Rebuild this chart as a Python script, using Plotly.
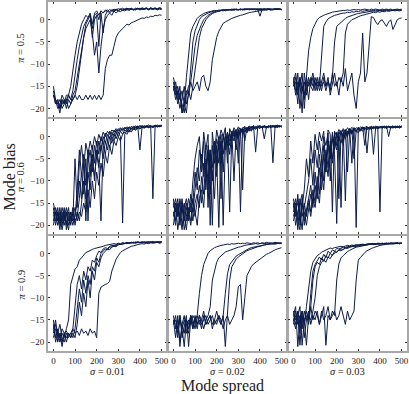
"""Siatka 3x3: bias modu w czasie dla roznych pi (wiersze) i sigma (kolumny)."""

import plotly.graph_objects as go
from plotly.subplots import make_subplots

FONT = "Liberation Serif"
LINE_COLOR = "#0c1c48"
FRAME_COLOR = "#a8a8a8"

STEP = 10  # wartosci zapisane co 10 krokow (0..500)

PI_VALUES = ["0.5", "0.6", "0.9"]
SIGMA_VALUES = ["0.01", "0.02", "0.03"]
X_TICKS = [0, 100, 200, 300, 400, 500]
Y_TICKS = [0, -5, -10, -15, -20]
Y_TICKTEXT = ["0", "\u22125", "\u221210", "\u221215", "\u221220"]

# pi = 0.5, sigma = 0.01
P05_S01 = [
    [-16, -19, -18, -20, -18, -19, -17, -17, -15, -11,
     -8, -5, -3, -1, 0, 1, 0.5, 1.5, -1, 1.5,
     2, 1, 2, 1.5, 2, 2.2, 1.8, 2.3, 2, 2.4,
     2.1, 2.5, 2.2, 2.4, 2.6, 2.3, 2.5, 2.2, 2.6, 2.4,
     2.6, 2.3, 2.5, 2.7, 2.4, 2.6, 2.5, 2.7, 2.4, 2.6,
     2.5],
    [-17, -18, -20, -19, -17, -18, -19, -17, -18, -16,
     -12, -9, -6, -3.5, -1.5, -0.5, 0.5, 1, -2, 1,
     1.5, 0, 2, 1.5, 2.2, 1.8, 2.3, 2, 2.4, 2.2,
     2.5, 2.3, 2.6, 2.3, 2.5, 2.4, 2.6, 2.3, 2.5, 2.6,
     2.4, 2.7, 2.5, 2.6, 2.4, 2.7, 2.5, 2.6, 2.5, 2.7,
     2.6],
    [-15, -18, -19, -21, -18, -19, -18, -20, -19, -17,
     -16, -13, -9, -6, -3, -1, 0, 1, -4, 0,
     1, -6, 1.5, -3, 1, 2, 1.5, 2, 1.8, 2.2,
     2, 2.3, 2.1, 2.4, 2.2, 2.5, 2.3, 2.4, 2.2, 2.5,
     2.3, 2.6, 2.4, 2.5, 2.3, 2.6, 2.4, 2.5, 2.3, 2.6,
     2.4],
    [-17, -19, -18, -20, -19, -18, -20, -18, -19, -18,
     -17, -15, -11, -7, -4, -2, -1, 0, -3, -8,
     -5, -12, -6, -2, 0, 1, 1.5, 1, 2, 1.5,
     2, 1.8, 2.2, 2, 2.3, 2.1, 2.4, 2.2, 2.3, 2.5,
     2.2, 2.4, 2.3, 2.5, 2.2, 2.4, 2.3, 2.5, 2.2, 2.4,
     2.3],
    [-17, -18, -19, -18, -20, -19, -18, -17, -18, -18,
     -17, -18, -17, -18, -18, -17, -18, -17, -18, -17,
     -18, -17, -18, -17, -11, -9, -8, -8, -6, -4,
     -3, -2.5, -2, -1.5, -1, -1.2, -0.7, -0.5, -0.3, 0,
     0.2, 0.4, 0.3, 0.6, 0.5, 0.8, 0.7, 1, 0.9, 1.1,
     1],
]

# pi = 0.5, sigma = 0.02
P05_S02 = [
    [-14, -17, -15, -18, -16, -19, -13, -7, -3, -1.5,
     -0.5, 0.3, 0.8, 1.2, 1.4, 1.6, 1.7, 1.9, 2, 2.1,
     2, 2.2, 2.1, 2.3, 2.2, 2.3, 2.2, 2.4, 2.3, 2.4,
     2.2, 2.4, 2.3, 2.5, 2.3, 2.4, 2.3, 2.5, 2.4, 2.3,
     2.5, 2.4, 2.3, 2.5, 2.4, 2.5, 2.3, 2.4, 2.5, 2.3,
     2.4],
    [-15, -16, -19, -17, -21, -18, -16, -17, -10, -5,
     -2.5, -1, 0, 0.7, 1, 1.3, 1.5, 1.7, 1.8, 2,
     2.1, 2, 2.2, 2.1, 2.3, 2.2, 2.3, 2.1, 2.4, 2.2,
     2.3, 2.4, 2.2, 2.4, 2.3, 2.5, 2.3, 2.4, 2.2, 2.4,
     0.8, 2.3, 2.5, 2.3, 2.4, 2.2, 2.4, 2.5, 2.3, 2.4,
     2.2],
    [-16, -14, -17, -20, -18, -15, -19, -17, -14, -10,
     -6, -3.5, -2, -1, 0, 0.6, 1, 1.3, 1.6, 1.8,
     2, 1.9, 2.1, 2.2, 2, 2.3, 2.2, 2.3, 2.1, 2.4,
     2.3, 2.2, 2.4, 2.3, 2.5, 2.2, 2.4, 2.3, 2.4, 2.5,
     2.3, 2.4, 2.2, 2.4, 2.5, 2.3, 2.4, 2.3, 2.5, 2.4,
     2.3],
    [-15, -18, -16, -17, -19, -21, -17, -15, -14, -16,
     -15, -14, -16, -13, -12.5, -15, -16, -14, -9, -6,
     -4, -2.6, -1.5, -0.8, -0.5, -0.2, 0, 0.3, 0.5, 0.7,
     0.9, 1, 1.1, 1.3, 1.4, 1.6, 1.7, 1.8, 1.9, 2,
     2.1, 2.1, 2.2, 2.2, 2.3, 2.2, 2.3, 2.4, 2.3, 2.4,
     2.3],
    [-13, -16, -18, -15, -21, -19, -21, -16, -18, -15,
     -11, -7, -4, -2, -1, 0, 0.6, 1.1, 1.4, 1.6,
     1.8, 2, 2.1, 2, 2.2, 2.1, 2.3, 2.2, 2.4, 2.3,
     2.2, 2.4, 2.3, 2.2, 2.4, 2.3, 2.5, 2.3, 2.4, 2.2,
     2.4, 2.3, 2.5, 2.2, 2.4, 2.3, 2.2, 2.4, 2.3, 2.5,
     2.3],
]

# pi = 0.5, sigma = 0.03
P05_S03 = [
    [-14, -16, -12, -20, -15, -18, -13, -7, -4, -2,
     -1, 0, 0.5, 0.8, 1, 1.2, 1.4, 1.5, 1.7, 1.8,
     1.9, 2, 2, 2.1, 2.1, 2.2, 2.1, 2.2, 2.3, 2.2,
     2.3, 2.2, 2.3, 2.4, 2.3, 2.2, 2.4, 2.3, 2.4, 2.3,
     2.2, 2.4, 2.3, 2.4, 2.3, 2.4, 2.2, 2.3, 2.4, 2.3,
     2.4],
    [-15, -13, -17, -14, -21, -12, -16, -14, -15, -13,
     -16, -14, -15, -8, -1.5, -0.5, 0.2, 0.5, 0.8, 1,
     1.1, 1.3, 1.4, 1.5, 1.5, 1.7, 1.6, 1.8, 1.7, 1.9,
     1.8, 2, 1.9, 2, 2.1, 1.9, 2.1, 2, 2.2, 2,
     2.1, 2.2, 2, 2.2, 2.1, 2.2, 2.1, 2.3, 2.1, 2.2,
     2.1],
    [-13, -17, -14, -15, -12, -20, -14, -18, -13, -15,
     -14, -16, -13, -15, -14, -16, -14, -15, -13, -5,
     -1.5, -1, -0.5, 0, 0.3, 0.6, 0.8, 1, 1.1, 1.3,
     1.4, 1.5, 1.6, 1.7, 1.8, 1.8, 1.9, 2, 1.9, 2,
     2.1, 2, 2.1, 2.2, 2.1, 2.2, 2.1, 2.2, 2.3, 2.2,
     2.3],
    [-14, -12, -16, -13, -15, -17, -13, -15, -14, -12,
     -15, -13, -16, -14, -12, -15, -13, -17, -14, -12,
     -15, -13, -14, -12, -3, -1, -0.5, 0, 0.2, 0.5,
     0.7, 0.9, 1, 1.2, 1.3, 1.4, 1.5, 1.7, 1.6, 1.8,
     1.7, 1.9, 1.8, 2, 1.9, 2, 2.1, 2, 2.1, 2,
     2.1],
    [-15, -14, -19, -13, -16, -14, -17, -13, -15, -16,
     -13, -15, -14, -16, -13, -15, -14, -16, -12, -15,
     -14, -17, -13, -15, -11, -16, -14, -12, -17, -20,
     -14, -12, -3, -14, -12, -5, 0.7, 0.5, -0.5, -1.1,
     -0.3, 0, -0.8, -1.5, -0.5, 0, -2.2, -1, 0, 0.3,
     0.4],
]

# pi = 0.6, sigma = 0.01
P06_S01 = [
    [-17, -19, -16, -20, -18, -19, -17, -20, -18, -19,
     -5, -16, -6, -2, -7, -1.5, -4, -1, -3, 0,
     -2, 0.5, -1, 1, 0, 1.2, 0.5, 1.5, 1, 1.8,
     1.3, 2, 1.5, 2.1, 1.7, 2.2, 1.8, 2.3, 2, 2.4,
     2.1, 2.5, 2.2, 2.4, 2.3, 2.5, 2.2, 2.6, 2.3, 2.5,
     2.6],
    [-15, -18, -20, -17, -19, -16, -21, -18, -17, -19,
     -18, -12, -3, -9, -4, -19, -6, -3, -8, -2,
     -5, -1, -3, 0, -1.5, 0.5, -0.5, 1, 0.3, 1.5,
     0.8, 1.8, 1.2, 2, 1.5, 2.1, 1.7, 2.2, 1.9, 2.3,
     -3, 2.2, 2, 2.4, 2.1, 2.3, 2.2, 2.5, 2.2, 2.4,
     2.3],
    [-19, -16, -18, -21, -17, -20, -18, -16, -20, -17,
     -19, -18, -14, -8, -13, -5, -19, -7, -4, -10,
     -3, -6, -19, -2, -4, -1, -2.5, 0, -1, 0.8,
     0, 1.2, 0.5, 1.5, 1, 1.8, 1.4, 2, 1.6, 2.1,
     1.8, 2.3, 2, 2.2, 2.1, 2.4, 2, 2.3, 2.2, 2.5,
     2.3],
    [-16, -20, -17, -19, -16, -18, -20, -17, -19, -16,
     -20, -17, -19, -15, -10, -14, -8, -12, -5, -9,
     -4, -7, -2, -5, -1, -3, 0, -1.5, 0.5, -0.5,
     1, 0, -19.5, 0.5, 1.5, 1, 2, 1.5, 2.2, 1.8,
     2.3, 2, 2.4, 2.1, 2.3, 2.2, -14, 2.1, 2.4, 2.2,
     2.5],
    [-18, -17, -19, -16, -20, -17, -19, -21, -17, -18,
     -16, -19, -17, -18, -15, -17, -12, -16, -10, -14,
     -8, -11, -6, -9, -4, -6, -2, -4, -1, -2,
     0, -1, 0.5, 1, 0.5, 1.5, 1, 1.8, 1.4, 2,
     1.7, 2.1, 1.9, 2.3, 2, 2.2, 2.1, 2.4, 2.2, 2.3,
     2.4],
    [-20, -17, -19, -18, -21, -18, -16, -19, -18, -20,
     -17, -15, -10, -14, -6, -11, -3, -9, -2, -6,
     -1, -4, 0, -2, 0.8, -1, 1.2, 0, 1.5, 0.8,
     1.8, 1.2, 2, 1.6, 2.2, 1.8, 2.3, 2, 2.4, 2.1,
     2.5, 2.2, 2.4, 2.3, 2.6, 2.2, 2.4, 2.3, 2.6, 2.4,
     2.5],
]

# pi = 0.6, sigma = 0.02
P06_S02 = [
    [-14, -19, -16, -20, -15, -18, -21, -16, -17, -10,
     -5, -2, 0, -8, 1, -3, 0.5, -20, 1, -4,
     1.5, -1, 1.5, 0, 2, -6, 1.8, 0.5, 2, 1,
     2.2, 1.5, 2, 2.3, 1.8, 2.4, 2, 2.5, -3.5, 2.2,
     2.4, 2, 2.5, 2.2, 2.4, 2.1, 2.5, 2.3, 2.6, 2.2,
     2.4],
    [-16, -14, -18, -15, -20, -17, -15, -19, -13, -15,
     -8, -12, -3, -6, -1, -12, -2, -5, -20, -1,
     -9, 0, -14, 0.5, -3, 1, -2, 1.2, -10, 1.5,
     0, 1.8, 0.8, 2, 1.2, 2.1, 1.5, 2.2, 1.8, 2.3,
     1.9, 2.4, 2, 2.2, 2.1, 2.5, -5.9, 2.3, 2.1, 2.4,
     2.2],
    [-18, -15, -21, -17, -14, -19, -16, -18, -15, -17,
     -12, -7, -10, -4, -9, -2, -16, -3, -7, -1,
     -5, -20.5, -1, -4, 0, -2, 0.8, -1, 1.2, 0,
     1.5, -17, 1.8, 1, 2, 1.4, 2.2, 1.7, 2.3, 1.9,
     2.4, 2, 2.2, 2.3, 2, 2.4, 2.2, 2.5, 2.1, 2.3,
     2.4],
    [-15, -17, -14, -19, -16, -21, -18, -14, -16, -19,
     -15, -13, -16, -9, -13, -5, -10, -3, -8, -14,
     -2, -6, -1, -20, -2, 0, -4, 0.8, -1, 1.2,
     -0.5, 1.5, -12, 1.6, 0.8, 2, 1.2, 2.1, 1.6, 2.2,
     1.8, 2.3, -0.5, 2.1, 2.4, 2, 2.3, 2.1, 2.5, 2.2,
     2.4],
    [-20, -16, -18, -14, -17, -15, -19, -17, -20, -16,
     -18, -15, -11, -15, -6, -9, -3, -13, -2, -6,
     -0.5, -3, 0.5, -8, 1, -1, -17, 0.5, 1.5, -3,
     1.8, 0.5, 2, -1, 2.1, 1.2, 2.3, 1.6, 2.2, 1.8,
     2.5, 2, 2.3, 1.9, 2.4, 2.2, 2.5, 2, 2.3, 2.5,
     2.1],
    [-17, -20, -15, -18, -21, -16, -14, -17, -19, -14,
     -17, -20, -14, -12, -16, -7, -12, -4, -10, -2,
     -7, -1, -5, 0.3, -2, 0.8, -1, 1.2, 0, 1.6,
     -6, 1.8, 1, 2.1, 1.4, 2.3, 1.8, 2.4, 2, 2.5,
     2.1, 2.3, 2.4, 2, 2.2, 2.5, 2.1, 2.4, 2.3, 2.5,
     2.2],
]

# pi = 0.6, sigma = 0.03
P06_S03 = [
    [-14, -18, -13, -20, -16, -12, -5, -9, -1, -6,
     0.5, -3, 1, -1, 1.2, -8, 1.5, 0.5, -17, 1.2,
     0, 1.6, 0.5, 1.8, 1, 2, 1.3, 2.1, 1.5, 2,
     1.6, 2.2, 1.8, 2, 2.3, 1.7, 2.2, 1.9, 2.4, 2,
     2.2, 2.1, 2.4, 1.9, 2.3, 2.1, 2.4, 2, 2.3, 2.2,
     2.4],
    [-17, -15, -21, -14, -18, -16, -13, -10, -5, -11,
     -3, -7, -1, -5, 0, -2, 0.8, -10, 1, -4,
     -19.6, 0.5, 1.4, -2, 1.6, 0.5, 1.8, 1, 2, -20.5,
     1.8, 1.2, 2.1, 1.5, -3.7, 2, 1.6, 2.2, 1.8, 2.3,
     1.9, 2.2, 2, 2.4, 0, 2.2, 1.9, 2.3, 2, 2.4,
     2.1],
    [-19, -16, -14, -17, -21, -15, -18, -14, -11, -16,
     -8, -13, -4, -9, -2, -6, -1, -4, 0.5, -2,
     1, -14, 0.8, 1.5, -14.5, 1.2, 1.8, 0.8, 2, 1.3,
     2.1, 1.5, 2.2, 1.7, 2, 1.9, 2.3, -4, 2.1, 1.8,
     2.3, 2, 2.2, 1.9, 2.4, 2, 2.2, 2.1, 2.4, 1.9,
     2.2],
    [-15, -20, -17, -15, -13, -19, -16, -14, -17, -12,
     -15, -9, -13, -5, -10, -3, -7, -1, -5, 0.5,
     -2, 1, -16, 0.8, 1.5, 0, 1.7, -6, 1.8, 1,
     2, 1.4, 2.2, 1.6, 2, 1.8, 2.3, 1.7, 2.1, 2.2,
     -17, 2, 2.3, 1.8, 2.2, 2, 2.4, 1.9, 2.2, 2.1,
     2.3],
    [-16, -14, -19, -21, -15, -17, -20, -16, -13, -15,
     -11, -14, -7, -12, -4, -8, -2, -5, -0.5, -3,
     0.5, -1, 1, 0, 1.3, -8, 1.5, 0.5, 1.8, 1.2,
     2, 1.5, 2.1, -2, 2.2, 1.6, 2, 2.3, 1.8, 2.2,
     2, 2.4, 1.9, 2.2, 2.1, 2.3, 2, 2.4, 2.1, 2.3,
     2.2],
    [-18, -16, -15, -19, -14, -20, -17, -15, -18, -14,
     -16, -12, -15, -8, -12, -5, -9, -2, -6, -1,
     -3, 0, -1.5, 0.8, -0.5, 1.2, 0.5, 1.6, -5, 1.4,
     0.8, 1.8, 1.2, 2, 1.5, 2.2, 1.8, 2, 2.2, 1.7,
     2.1, 1.9, 2.3, 2, 2.2, 1.8, 2.3, 2.1, 2.2, 2,
     2.4],
]

# pi = 0.9, sigma = 0.01
P09_S01 = [
    [-15, -19, -17, -20, -18, -19, -17, -15, -7, -5,
     -3.5, -3, -1.5, -1, -0.5, 0.2, 0.4, 0.7, 0.9, 1.1,
     1.2, 1.3, 1.5, 1.6, 1.8, 1.9, 2, 2.1, 2.2, 2.1,
     2.3, 2.2, 2.4, 2.3, 2.5, 2.3, 2.4, 2.5, 2.3, 2.5,
     2.4, 2.6, 2.4, 2.5, 2.6, 2.4, 2.6, 2.5, 2.6, 2.4,
     2.6],
    [-17, -16, -20, -18, -21, -18, -19, -18, -19, -17,
     -12, -7, -5, -8, -4, -6, -3, -4, -1.5, -2,
     -0.5, 0.5, 0.2, 1, 1.3, 1.1, 1.6, 1.8, 1.7, 2,
     2.2, 2, 2.3, 2.2, 2.4, 2.3, 2.5, 2.4, 2.6, 2.4,
     2.5, 2.6, 2.4, 2.6, 2.5, 2.6, 2.4, 2.6, 2.5, 2.7,
     2.5],
    [-19, -17, -18, -16, -19, -20, -18, -19, -18, -19,
     -17, -13, -8, -11, -6, -9, -5, -7, -3, -4,
     -1, -2, 0, 0.5, 1, 0.8, 1.4, 1.5, 1.9, 1.7,
     2.1, 2, 2.3, 2.2, 2.4, 2.3, 2.5, 2.3, 2.5, 2.6,
     2.4, 2.5, 2.6, 2.4, 2.6, 2.5, 2.7, 2.5, 2.6, 2.5,
     2.6],
    [-16, -20, -18, -19, -17, -18, -20, -18, -19, -18,
     -19, -16, -11, -14, -9, -12, -6, -10, -4, -6,
     -2, -3, -1, 0, 0.5, 1, 0.8, 1.4, 1.6, 1.5,
     1.9, 2.1, 2, 2.3, 2.2, 2.4, 2.3, 2.5, 2.4, 2.6,
     2.5, 2.4, 2.6, 2.5, 2.4, 2.6, 2.5, 2.4, 2.6, 2.5,
     2.7],
    [-18, -15, -19, -18, -20, -18, -17.5, -18.5, -18, -17,
     -18, -17.5, -18.5, -17, -18, -17.5, -18.5, -17, -18, -17.5,
     -19, -9, -7.6, -7.2, -7, -6.8, -6.3, -4, -2.5, -1.3,
     -0.5, 0.2, 0.6, 0.9, 1.2, 1.4, 1.6, 1.7, 1.9, 2,
     2.1, 2.2, 2.1, 2.3, 2.2, 2.4, 2.3, 2.4, 2.5, 2.3,
     2.4],
]

# pi = 0.9, sigma = 0.02
P09_S02 = [
    [-15, -19, -14, -21, -16, -18, -15, -17, -14, -16,
     -15, -14, -9, -5, -2.5, -1, 0, 0.6, 1, 1.3,
     1.5, 1.7, 1.8, 1.9, 2, 2.1, 2, 2.2, 2.1, 2.2,
     2.3, 2.2, 2.3, 2.2, 2.4, 2.3, 2.2, 2.4, 2.3, 2.4,
     2.2, 2.4, 2.3, 2.5, 2.3, 2.4, 2.3, 2.5, 2.4, 2.3,
     2.4],
    [-16, -14, -18, -15, -17, -21, -15, -16, -14, -17,
     -15, -16, -14, -15, -17, -15, -14, -12, -6, -3.9,
     -2, -1, -0.5, 0, 0.3, 0.5, 0.7, 0.9, 1.1, 1.3,
     1.4, 1.5, 1.7, 1.8, 1.9, 2, 2, 2.1, 2.2, 2.1,
     2.2, 2.3, 2.2, 2.3, 2.4, 2.2, 2.3, 2.4, 2.3, 2.4,
     2.3],
    [-14, -17, -15, -20, -16, -14, -18, -15, -16, -14,
     -15, -17, -14, -16, -15, -14, -16, -15, -14, -16,
     -15, -14, -16, -14, -9, -4.6, -2.5, -1.8, -1.2, -0.6,
     -0.3, 0, 0.3, 0.6, 0.9, 1.1, 1.3, 1.4, 1.5, 1.7,
     1.8, 1.9, 2, 2, 2.1, 2.2, 2.1, 2.2, 2.3, 2.2,
     2.3],
    [-15, -16, -19, -14, -17, -15, -16, -18, -14, -15,
     -17, -14, -16, -15, -13, -16, -15, -14, -16, -15,
     -13, -15, -16, -14, -21, -14, -6, -3, -2, -1.3,
     -0.8, -0.4, 0, 0.3, 0.6, 0.8, 1, 1.2, 1.4, 1.5,
     1.6, 1.8, 1.9, 2, 2, 2.1, 2.2, 2.1, 2.2, 2.3,
     2.2],
    [-16, -15, -17, -14, -19, -16, -14, -21, -15, -17,
     -14, -16, -15, -17, -14, -16, -15, -14, -17, -15,
     -16, -14, -15, -17, -15, -14, -16, -15, -14, -12,
     -7.5, -7, -15, -10, -5, -4, -3, -2.4, -2, -1.7,
     -1.3, -0.9, -0.5, -0.2, 0, 0.3, 0.6, 0.8, 1, 1.1,
     1.3],
]

# pi = 0.9, sigma = 0.03
P09_S03 = [
    [-14, -12, -21, -15, -13, -16, -12, -8, -4, -2,
     -1.2, -0.5, -0.2, 0.3, 0.5, 0.8, 1, 1.2, 1.1, 1.3,
     1.4, 1.5, 1.6, 1.5, 1.7, 1.8, 1.7, 1.9, 1.8, 2,
     1.9, 2, 2.1, 2, 2.1, 2.2, 2.1, 2.2, 2.1, 2.3,
     2.2, 2.1, 2.3, 2.2, 2.3, 2.2, 2.4, 2.2, 2.3, 2.2,
     2.3],
    [-15, -17, -13, -20.7, -14, -16, -13, -15, -9, -4,
     -2.5, -1.5, -0.8, -1.5, -0.2, -1, 0.5, 0, 0.8, 0.5,
     1.1, 1, 1.3, 1.4, 1.3, 1.6, 1.5, 1.7, 1.8, 1.7,
     1.9, 1.8, 2, 1.9, 2.1, 2, 2.1, 2.2, 2, 2.2,
     2.1, 2.3, 2.1, 2.2, 2.3, 2.1, 2.3, 2.2, 2.4, 2.2,
     2.3],
    [-13, -16, -14, -12, -20.7, -15, -14, -16, -12, -6,
     -3, -2, -2.5, -1, -1.8, -0.5, -1, 0, -0.5, 0.5,
     0.2, 0.8, 1, 0.9, 1.2, 1.3, 1.4, 1.6, 1.5, 1.7,
     1.8, 1.7, 1.9, 2, 1.9, 2.1, 2, 2.1, 2.2, 2.1,
     2.2, 2.2, 2.1, 2.3, 2.2, 2.3, 2.2, 2.3, 2.2, 2.4,
     2.3],
    [-16, -14, -15, -18, -13, -15, -20.7, -14, -15, -13,
     -10, -5, -3, -2, -1.4, -2, -0.8, -1.2, -0.3, 0,
     0.4, 0.7, 0.6, 1, 1.2, 1.1, 1.4, 1.5, 1.7, 1.6,
     1.8, 1.9, 1.8, 2, 2, 2.1, 2.2, 2, 2.1, 2.2,
     2.3, 2.1, 2.2, 2.3, 2.1, 2.3, 2.2, 2.4, 2.3, 2.2,
     2.4],
    [-14, -15, -13, -16, -14, -19, -15, -13, -16, -14,
     -15, -13, -16, -14, -12, -20.7, -14, -15, -13, -14,
     -6, -2.4, -1, -0.5, 0, 0.4, 0.7, 1, 1.2, 1.4,
     1.5, 1.6, 1.8, 1.9, 1.9, 2, 2.1, 2, 2.2, 2.1,
     2.2, 2.3, 2.2, 2.3, 2.2, 2.4, 2.2, 2.3, 2.4, 2.2,
     2.3],
    [-15, -13, -16, -14, -17, -13, -15, -14, -12, -15,
     -13, -14, -16, -13, -15, -14, -12, -15, -14, -13,
     -15, -14, -12, -14, -16, -13, -15, -14, -13, -6,
     -1.5, -0.9, -0.3, 0.2, 0.6, 0.9, 1.1, 1.3, 1.5, 1.6,
     1.8, 1.9, 2, 2, 2.1, 2.2, 2.1, 2.2, 2.3, 2.2,
     2.3],
]

PANELS = [
    [P05_S01, P05_S02, P05_S03],
    [P06_S01, P06_S02, P06_S03],
    [P09_S01, P09_S02, P09_S03],
]

fig = make_subplots(rows=3, cols=3, horizontal_spacing=0.003,
                    vertical_spacing=0.0043)

for r, row in enumerate(PANELS):
    for c, runs in enumerate(row):
        for run in runs:
            fig.add_trace(go.Scatter(
                x=[STEP * i for i in range(len(run))], y=run,
                mode="lines", line=dict(color=LINE_COLOR, width=1),
                showlegend=False, hoverinfo="skip",
            ), row=r + 1, col=c + 1)

axis_style = dict(
    showline=True, linecolor=FRAME_COLOR, linewidth=2, mirror="ticks",
    ticks="inside", ticklen=2, tickwidth=1, tickcolor="#333333",
    showgrid=False, zeroline=False,
    tickfont=dict(family=FONT, size=9, color="#222222"),
)
fig.update_xaxes(range=[-25, 525], tickvals=X_TICKS, showticklabels=False,
                 **axis_style)
fig.update_yaxes(range=[-22, 4], tickvals=Y_TICKS, ticktext=Y_TICKTEXT,
                 showticklabels=False, **axis_style)
for c in range(3):
    fig.update_xaxes(showticklabels=True, row=3, col=c + 1)
for r in range(3):
    fig.update_yaxes(showticklabels=True, row=r + 1, col=1)

# podpisy wierszy/kolumn i wspolne tytuly osi
# (w oryginale podpisy pi nie sa idealnie na srodku wierszy)
PI_LABEL_Y = [0.869, 0.499, 0.191]
notes = []
for r, pi in enumerate(PI_VALUES):
    notes.append(dict(text=f"<i>π</i> = {pi}", x=-0.075, y=PI_LABEL_Y[r],
                      textangle=-90, font=dict(size=10.5)))
for c, sig in enumerate(SIGMA_VALUES):
    dom = fig.layout[f"xaxis{7 + c}"].domain
    notes.append(dict(text=f"<i>σ</i> = {sig}", x=(dom[0] + dom[1]) / 2,
                      y=-0.06, font=dict(size=10.5)))
notes.append(dict(text="Mode bias", x=-0.106, y=0.5, textangle=-90,
                  font=dict(size=16)))
notes.append(dict(text="Mode spread", x=0.486, y=-0.1, font=dict(size=16)))
for n in notes:
    n.update(xref="paper", yref="paper", showarrow=False,
             xanchor="center", yanchor="middle")
    n["font"].update(family=FONT, color="#222222")

fig.update_layout(
    width=409, height=394,
    margin=dict(l=48, r=1, t=0, b=43),
    paper_bgcolor="white", plot_bgcolor="white",
    annotations=notes, hovermode=False,
)

# strona ma domyslny margines body 8px - zerujemy, zeby wykres zaczynal sie w rogu
fig.write_html("out.html", config={"displayModeBar": False},
               post_script="document.body.style.margin = '0';")
